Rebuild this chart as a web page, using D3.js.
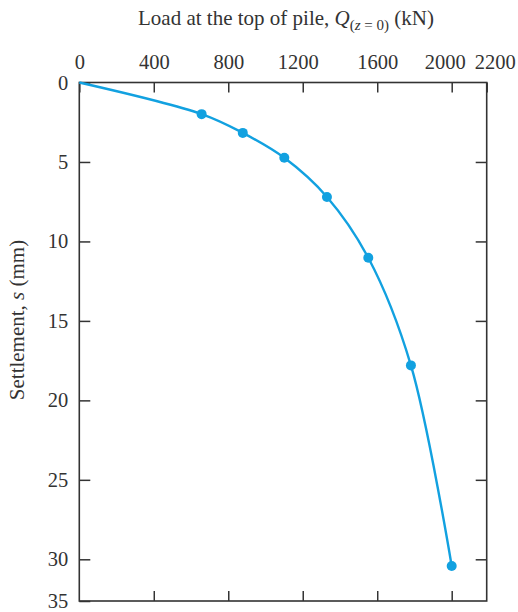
<!DOCTYPE html>
<html>
<head>
<meta charset="utf-8">
<script src="https://cdn.jsdelivr.net/npm/d3@7.9.0/dist/d3.min.js"></script>
<style>
  body { margin: 0; background: #fff; }
  svg text { font-family: "Liberation Serif", "DejaVu Serif", serif; fill: #333; }
</style>
</head>
<body>
<svg id="chart" width="518" height="612"></svg>
<script>
// ── Data ──────────────────────────────────────────────────────────────────
const loads = [0, 657, 878, 1101, 1330, 1552, 1781, 2000];          // Q (kN)
const settlements = [0, 1.99, 3.17, 4.74, 7.2, 11.03, 17.8, 30.8];  // s (mm)
const xTicks = [0, 400, 800, 1200, 1600, 2000, 2200];
const yTicks = [0, 5, 10, 15, 20, 25, 30, 35];

const ink = '#333';
const blue = '#12a1e0';

const svg = d3.select('#chart');

// Frame stops at 2200 kN / ~35 mm (the bottom label sits on the frame edge)
const x = d3.scaleLinear().domain([0, 2000, 2200]).range([79.3, 451.7, 486.7]);
const y = d3.scaleLinear().domain([0, 30, 35]).range([82.5, 559.3, 601]);

// ── Axes ──────────────────────────────────────────────────────────────────
const topAxis = svg.append('g')
  .attr('transform', `translate(0,${y(0)})`)
  .call(d3.axisTop(x).tickValues(xTicks).tickSize(-10).tickPadding(14).tickFormat(d3.format('d')));

// 2000 and 2200 labels are pushed apart in the original
topAxis.selectAll('.tick text')
  .attr('dx', (d) => (d === 2000 ? -7 : d === 2200 ? 8 : d === 1200 ? -5 : 0));

svg.append('g')
  .attr('transform', `translate(0,${y(35)})`)
  .call(d3.axisBottom(x).tickValues(xTicks.slice(1, -1)).tickSize(-10).tickFormat(''));

svg.append('g')
  .attr('transform', `translate(${x(0)},0)`)
  .call(d3.axisLeft(y).tickValues(yTicks).tickSize(-11).tickPadding(11));

svg.append('g')
  .attr('transform', `translate(${x(2200)},0)`)
  .call(d3.axisRight(y).tickValues(yTicks.slice(1, -1)).tickSize(-11).tickFormat(''));

svg.selectAll('.domain').remove();
svg.selectAll('.tick line').attr('stroke', ink).attr('stroke-width', 1.5);
svg.selectAll('.tick text')
  .attr('font-size', 20.5)
  .attr('font-family', '"Liberation Serif", serif')
  .attr('fill', ink);

// Frame
svg.append('rect')
  .attr('x', x(0))
  .attr('y', y(0))
  .attr('width', x(2200) - x(0))
  .attr('height', y(35) - y(0))
  .attr('fill', 'none')
  .attr('stroke', ink)
  .attr('stroke-width', 1.6);

// ── Titles ────────────────────────────────────────────────────────────────
const title = svg.append('text')
  .attr('x', 286)
  .attr('y', 25)
  .attr('text-anchor', 'middle')
  .attr('font-size', 21);
title.append('tspan').text('Load at the top of pile, ');
title.append('tspan').attr('font-style', 'italic').text('Q');
const sub = title.append('tspan').attr('font-size', 15).attr('dy', 5);
sub.append('tspan').text('(');
sub.append('tspan').attr('font-style', 'italic').text('z');
sub.append('tspan').text(' = 0)');
title.append('tspan').attr('dy', -5).text(' (kN)');

const ytitle = svg.append('text')
  .attr('transform', 'translate(24,320) rotate(-90)')
  .attr('text-anchor', 'middle')
  .attr('font-size', 21);
ytitle.append('tspan').text('Settlement, ');
ytitle.append('tspan').attr('font-style', 'italic').text('s');
ytitle.append('tspan').text(' (mm)');

// ── Curve + points ────────────────────────────────────────────────────────
const pts = loads.map((q, i) => [q, settlements[i]]);

const line = d3.line()
  .x((d) => x(d[0]))
  .y((d) => y(d[1]))
  .curve(d3.curveCatmullRom.alpha(0.5));

svg.append('path')
  .datum(pts)
  .attr('d', line)
  .attr('fill', 'none')
  .attr('stroke', blue)
  .attr('stroke-width', 2.4);

svg.selectAll('circle')
  .data(pts.slice(1))
  .join('circle')
  .attr('cx', (d) => x(d[0]))
  .attr('cy', (d) => y(d[1]))
  .attr('r', 5)
  .attr('fill', blue);
</script>
</body>
</html>
